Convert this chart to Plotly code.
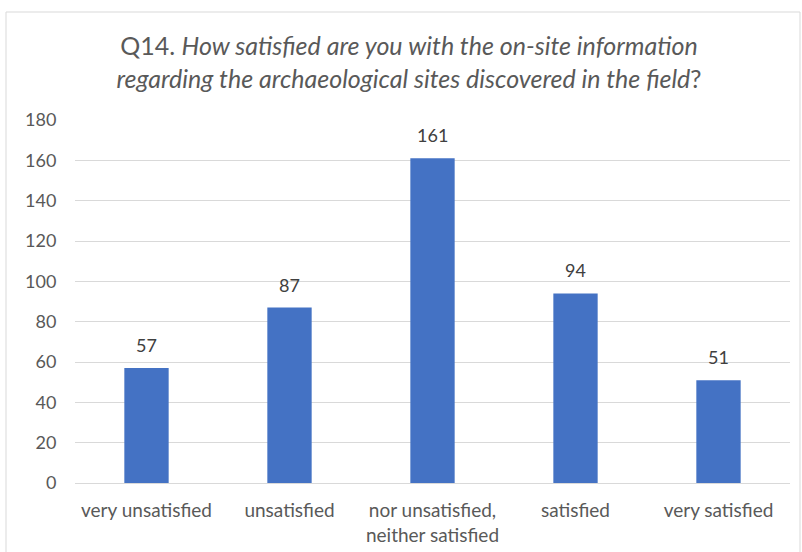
import plotly.graph_objects as go

categories = ["very unsatisfied", "unsatisfied", "nor unsatisfied,<br>neither satisfied", "satisfied", "very satisfied"]
values = [57, 87, 161, 94, 51]
y_ticks = [0, 20, 40, 60, 80, 100, 120, 140, 160, 180]

W, H = 802, 552
ml, mr, mt, mb = 75, 12, 120, 69
FONT = "Lato, 'Open Sans', sans-serif"
GRAY = "#595959"

fig = go.Figure()
fig.add_trace(go.Bar(x=categories, y=values, marker=dict(color="#4472C4", line=dict(width=0)),
                     hoverinfo="x+y"))

for c, v in zip(categories, values):
    fig.add_annotation(x=c, y=v, text=str(v), showarrow=False, yanchor="bottom",
                       yshift=10, font=dict(family=FONT, size=18, color="#404040"))

pw = W - ml - mr
ph = H - mt - mb
def px_x(x):
    return (x - ml) / pw
def px_y(y):
    return (H - mb - y) / ph

fig.add_shape(type="rect", xref="paper", yref="paper",
              x0=px_x(6), x1=px_x(800), y0=px_y(560), y1=px_y(12),
              line=dict(color="#D9D9D9", width=1), fillcolor="rgba(0,0,0,0)", layer="below")

fig.update_layout(
    width=W, height=H,
    margin=dict(l=ml, r=mr, t=mt, b=mb, autoexpand=False),
    paper_bgcolor="white", plot_bgcolor="white",
    bargap=0.69,
    showlegend=False,
    title=dict(text="Q14. <i>How satisfied are you with the on-site information</i><br><i>regarding the archaeological sites discovered in the field</i>?",
               x=0.51, xanchor="center", y=1 - 55 / H, yanchor="middle",
               font=dict(family=FONT, size=25, color=GRAY)),
    font=dict(family=FONT, color=GRAY),
    xaxis=dict(showgrid=False, showline=False, ticks="", tickfont=dict(size=19, color=GRAY),
               ticklabelstandoff=14, automargin=False),
    yaxis=dict(range=[0, 180], tickvals=y_ticks, showgrid=True, gridcolor="#D9D9D9", gridwidth=1,
               zeroline=True, zerolinecolor="#D9D9D9", zerolinewidth=1,
               showline=False, ticks="outside", ticklen=14, tickcolor="rgba(0,0,0,0)",
               tickfont=dict(size=18, color=GRAY), automargin=False),
)

fig.write_html("out.html")
